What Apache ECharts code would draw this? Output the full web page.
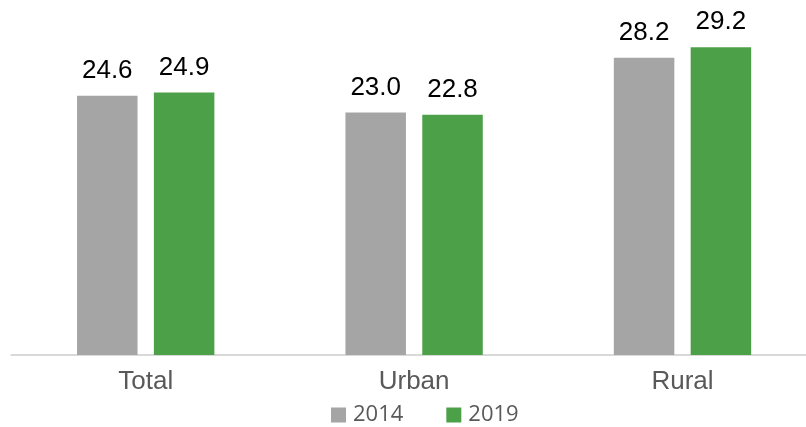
<!DOCTYPE html>
<html>
<head>
<meta charset="utf-8">
<script src="https://cdn.jsdelivr.net/npm/echarts@6/dist/echarts.min.js"></script>
<style>
  html, body { margin: 0; padding: 0; background: #ffffff; overflow: hidden; width: 806px; height: 427px; }
  /* canvas is a little wider than the page so the plot area runs past the right edge */
  #chart { width: 817px; height: 427px; }
</style>
</head>
<body>
<div id="chart"></div>
<script>
// Categories and the two survey years
const categories = ['Total', 'Urban', 'Rural'];
const values2014 = [24.6, 23.0, 28.2];
const values2019 = [24.9, 22.8, 29.2];

const chart = echarts.init(document.getElementById('chart'), null, { renderer: 'canvas' });

const valueLabel = {
  show: true,
  position: 'top',
  distance: 12,
  color: '#000000',
  fontFamily: 'Liberation Sans, Arial, sans-serif',
  fontSize: 26,
  formatter: p => p.value.toFixed(1)
};

chart.setOption({
  animation: false,
  grid: { left: 11.5, right: 0.3, top: 38.8, bottom: 72, containLabel: false },
  legend: {
    data: ['2014', '2019'],
    left: 331,
    top: 404,
    padding: 0,
    itemWidth: 15,
    itemHeight: 15,
    itemGap: 43,
    icon: 'rect',
    textStyle: {
      color: '#595959',
      fontFamily: 'Open Sans, sans-serif',
      fontSize: 22,
      padding: [0, 0, 0, 2]
    }
  },
  xAxis: {
    type: 'category',
    data: categories,
    axisLine: { lineStyle: { color: '#d9d9d9', width: 2 } },
    axisTick: { show: false },
    axisLabel: {
      color: '#595959',
      fontFamily: 'Liberation Sans, Arial, sans-serif',
      fontSize: 26,
      margin: 14
    }
  },
  yAxis: {
    type: 'value',
    min: 0,
    max: 30,
    show: false,
    splitLine: { show: false }
  },
  series: [
    {
      name: '2014',
      type: 'bar',
      data: values2014,
      barWidth: 60.5,
      barGap: '27%',
      itemStyle: { color: '#A5A5A5' },
      label: valueLabel
    },
    {
      name: '2019',
      type: 'bar',
      data: values2019,
      barWidth: 60.5,
      itemStyle: { color: '#4CA048' },
      label: valueLabel
    }
  ]
});
</script>
</body>
</html>
